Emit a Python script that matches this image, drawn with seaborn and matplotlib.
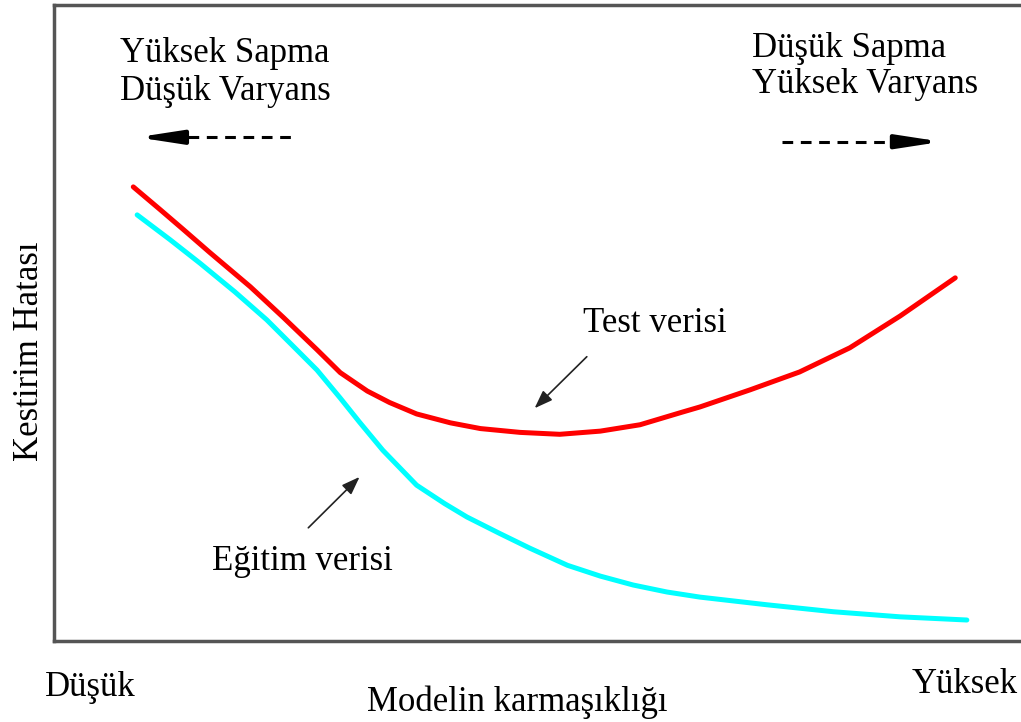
import matplotlib
matplotlib.use("Agg")
import matplotlib.pyplot as plt
import seaborn as sns

# Model complexity (0-10) vs prediction error (0-10)
test_x = [0.82, 1.10, 1.33, 1.61, 2.03, 2.37, 2.72, 2.96, 3.24, 3.47, 3.75, 4.10,
          4.41, 4.82, 5.23, 5.65, 6.06, 6.50, 6.68, 7.20, 7.71, 8.23, 8.75, 9.32]
test_err = [7.14, 6.78, 6.48, 6.11, 5.57, 5.09, 4.58, 4.22, 3.93, 3.75, 3.57, 3.43,
            3.34, 3.28, 3.25, 3.30, 3.40, 3.60, 3.68, 3.95, 4.23, 4.61, 5.11, 5.71]

train_x = [0.86, 1.20, 1.51, 1.87, 2.20, 2.49, 2.72, 2.96, 3.16, 3.40, 3.75, 4.04,
           4.27, 4.61, 4.92, 5.31, 5.65, 5.99, 6.34, 6.68, 7.37, 8.06, 8.75, 9.44]
train_err = [6.70, 6.31, 5.94, 5.49, 5.05, 4.61, 4.26, 3.82, 3.44, 3.00, 2.45, 2.16,
             1.95, 1.69, 1.46, 1.19, 1.02, 0.88, 0.77, 0.69, 0.57, 0.46, 0.38, 0.33]

sns.set_style("white")
plt.rcParams['font.family'] = ['Liberation Serif', 'DejaVu Serif']
plt.rcParams['text.color'] = 'black'

fig = plt.figure(figsize=(10.21, 7.22), dpi=100)
ax = fig.add_axes([54 / 1021, 1 - 641 / 722, 1 - 54 / 1021, 636 / 722])

sns.lineplot(x=test_x, y=test_err, color="#ff0000", linewidth=3.6, sort=False, ax=ax)
sns.lineplot(x=train_x, y=train_err, color="#00ffff", linewidth=3.6, sort=False, ax=ax)
for line in ax.lines:
    line.set_solid_joinstyle("round")

ax.set_xlim(0, 10)
ax.set_ylim(0, 10)
ax.set_xticks([])
ax.set_yticks([])
for side in ["left", "top", "bottom"]:
    ax.spines[side].set_color("#555555")
    ax.spines[side].set_linewidth(2.5)
ax.spines["right"].set_visible(False)

fs = 25

# corner labels
ax.text(0.68, 9.10, "Yüksek Sapma", fontsize=fs, ha="left", va="baseline")
ax.text(0.68, 8.51, "Düşük Varyans", fontsize=fs, ha="left", va="baseline")
ax.text(7.22, 9.18, "Düşük Sapma", fontsize=fs, ha="left", va="baseline")
ax.text(7.22, 8.62, "Yüksek Varyans", fontsize=fs, ha="left", va="baseline")

# dashed direction arrows
big_head = dict(arrowstyle="-|>,head_length=1.3,head_width=0.2", color="black",
                lw=3, shrinkA=0, shrinkB=0, mutation_scale=20)
ax.plot([1.39, 2.46], [7.92, 7.92], color="black", lw=2.2, linestyle=(0, (3.5, 2.5)))
ax.annotate("", xy=(0.86, 7.92), xytext=(1.33, 7.92), arrowprops=big_head)
ax.plot([7.53, 8.75], [7.85, 7.85], color="black", lw=2.2, linestyle=(0, (3.5, 2.5)))
ax.annotate("", xy=(9.18, 7.85), xytext=(8.78, 7.85), arrowprops=big_head)

# curve labels
small_head = dict(arrowstyle="-|>,head_length=0.55,head_width=0.2", color="#222222",
                  lw=1.2, shrinkA=0, shrinkB=0, mutation_scale=20)
ax.text(5.47, 4.86, "Test verisi", fontsize=fs, ha="left", va="baseline")
ax.annotate("", xy=(4.97, 3.66), xytext=(5.51, 4.47), arrowprops=small_head)
ax.text(1.63, 1.12, "Eğitim verisi", fontsize=fs, ha="left", va="baseline")
ax.annotate("", xy=(3.16, 2.58), xytext=(2.63, 1.78), arrowprops=small_head)

# axis texts
fig.text(45 / 1021, 1 - 696 / 722, "Düşük", fontsize=fs, ha="left", va="baseline")
fig.text(912 / 1021, 1 - 693 / 722, "Yüksek", fontsize=fs, ha="left", va="baseline")
fig.text(367 / 1021, 1 - 711 / 722, "Modelin karmaşıklığı", fontsize=fs, ha="left", va="baseline")
fig.text(38 / 1021, 1 - 351 / 722, "Kestirim Hatası", fontsize=fs, rotation=90,
         rotation_mode="anchor", ha="center", va="baseline")

fig.savefig("out.png", dpi=100)
